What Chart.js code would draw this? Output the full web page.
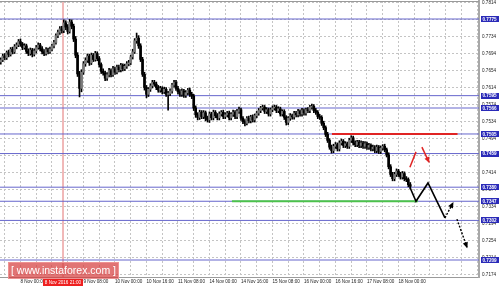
<!DOCTYPE html>
<html>
<head>
<meta charset="utf-8">
<script src="https://cdn.jsdelivr.net/npm/chart.js@4.4.0/dist/chart.umd.min.js"></script>
<style>
  html, body { margin: 0; padding: 0; background: #fff; }
  #wrap { width: 500px; height: 288px; }
</style>
</head>
<body>
<div id="wrap"><canvas id="chart" width="500" height="288"></canvas></div>
<script>
// hourly candles, x = hours counted from 8 Nov 00:00 (weekend hours skipped)
const firstBar = -10;
const firstOpen = 0.7674;
const closes = [
  0.7679,0.7688,0.7684,0.7696,0.7692,0.7704,0.7698,0.7710,0.7714,0.7722,
  0.7716,0.7708,0.7712,0.7699,0.7694,0.7702,0.7692,0.7700,0.7708,0.7714,
  0.7705,0.7698,0.7694,0.7703,0.7698,0.7704,0.7712,0.7720,0.7736,0.7744,
  0.7752,0.7748,0.7766,0.7756,0.7746,0.7768,0.7758,0.7728,0.7690,0.7646,
  0.7612,0.7650,0.7670,0.7678,0.7688,0.7672,0.7690,0.7680,0.7694,0.7682,
  0.7668,0.7652,0.7648,0.7636,0.7644,0.7654,0.7644,0.7658,0.7650,0.7662,
  0.7656,0.7666,0.7658,0.7664,0.7670,0.7672,0.7686,0.7698,0.7724,0.7730,
  0.7712,0.7680,0.7645,0.7614,0.7598,0.7610,0.7618,0.7626,0.7622,0.7614,
  0.7608,0.7612,0.7604,0.7610,0.7598,0.7600,0.7606,0.7620,0.7626,0.7612,
  0.7604,0.7598,0.7606,0.7596,0.7602,0.7608,0.7598,0.7594,0.7566,0.7550,
  0.7544,0.7556,0.7546,0.7555,0.7542,0.7538,0.7552,0.7543,0.7556,0.7548,
  0.7543,0.7552,0.7556,0.7546,0.7550,0.7554,0.7543,0.7551,0.7556,0.7546,
  0.7558,0.7562,0.7542,0.7534,0.7530,0.7542,0.7536,0.7545,0.7538,0.7548,
  0.7554,0.7560,0.7566,0.7568,0.7558,0.7562,0.7552,0.7562,0.7566,0.7568,
  0.7560,0.7564,0.7552,0.7558,0.7544,0.7532,0.7542,0.7548,0.7545,0.7554,
  0.7550,0.7558,0.7552,0.7560,0.7554,0.7562,0.7560,0.7568,0.7570,0.7560,
  0.7556,0.7546,0.7544,0.7530,0.7520,0.7504,0.7490,0.7474,0.7466,0.7476,
  0.7480,0.7470,0.7484,0.7488,0.7478,0.7482,0.7476,0.7490,0.7496,0.7484,
  0.7480,0.7486,0.7478,0.7484,0.7476,0.7482,0.7474,0.7478,0.7470,0.7474,
  0.7466,0.7474,0.7464,0.7472,0.7476,0.7468,0.7456,0.7428,0.7410,0.7400,
  0.7410,0.7418,0.7410,0.7404,0.7412,0.7400,0.7398,0.7386,0.7382
];
const highs = [
  0.7684,0.7693,0.7694,0.7700,0.7702,0.7708,0.7709,0.7715,0.7719,0.7727,
  0.7728,0.7720,0.7717,0.7716,0.7705,0.7707,0.7706,0.7705,0.7713,0.7719,
  0.7718,0.7710,0.7703,0.7708,0.7707,0.7709,0.7716,0.7725,0.7740,0.7749,
  0.7757,0.7758,0.7773,0.7771,0.7762,0.7774,0.7773,0.7763,0.7734,0.7696,
  0.7652,0.7656,0.7675,0.7684,0.7693,0.7692,0.7695,0.7694,0.7699,0.7698,
  0.7687,0.7672,0.7658,0.7652,0.7649,0.7659,0.7658,0.7664,0.7662,0.7667,
  0.7667,0.7671,0.7670,0.7669,0.7675,0.7678,0.7690,0.7704,0.7729,0.7742,
  0.7736,0.7717,0.7685,0.7650,0.7619,0.7614,0.7623,0.7631,0.7631,0.7627,
  0.7619,0.7617,0.7616,0.7615,0.7614,0.7605,0.7611,0.7624,0.7631,0.7631,
  0.7617,0.7609,0.7611,0.7610,0.7607,0.7612,0.7613,0.7603,0.7598,0.7571,
  0.7555,0.7561,0.7560,0.7560,0.7559,0.7547,0.7557,0.7556,0.7561,0.7560,
  0.7553,0.7557,0.7560,0.7561,0.7555,0.7558,0.7559,0.7555,0.7561,0.7560,
  0.7563,0.7568,0.7566,0.7546,0.7539,0.7546,0.7547,0.7549,0.7550,0.7552,
  0.7558,0.7565,0.7570,0.7573,0.7572,0.7567,0.7566,0.7566,0.7571,0.7573,
  0.7572,0.7569,0.7568,0.7562,0.7562,0.7548,0.7546,0.7553,0.7552,0.7558,
  0.7558,0.7563,0.7562,0.7565,0.7564,0.7566,0.7567,0.7572,0.7575,0.7574,
  0.7565,0.7560,0.7551,0.7548,0.7535,0.7524,0.7509,0.7494,0.7479,0.7481,
  0.7485,0.7484,0.7489,0.7493,0.7492,0.7487,0.7486,0.7495,0.7501,0.7500,
  0.7489,0.7490,0.7490,0.7489,0.7488,0.7487,0.7486,0.7483,0.7482,0.7479,
  0.7478,0.7479,0.7478,0.7477,0.7480,0.7481,0.7472,0.7461,0.7433,0.7415,
  0.7415,0.7423,0.7422,0.7415,0.7417,0.7416,0.7405,0.7402,0.7391
];
const lows = [
  0.7669,0.7675,0.7679,0.7680,0.7686,0.7688,0.7693,0.7694,0.7705,0.7710,
  0.7711,0.7703,0.7704,0.7694,0.7689,0.7690,0.7686,0.7688,0.7695,0.7704,
  0.7700,0.7693,0.7689,0.7690,0.7693,0.7694,0.7700,0.7707,0.7716,0.7731,
  0.7739,0.7742,0.7743,0.7750,0.7740,0.7742,0.7752,0.7722,0.7684,0.7640,
  0.7592,0.7604,0.7645,0.7664,0.7673,0.7666,0.7668,0.7675,0.7676,0.7677,
  0.7662,0.7647,0.7643,0.7630,0.7631,0.7639,0.7639,0.7640,0.7645,0.7646,
  0.7651,0.7651,0.7653,0.7654,0.7659,0.7665,0.7668,0.7681,0.7694,0.7718,
  0.7706,0.7675,0.7640,0.7608,0.7590,0.7593,0.7605,0.7613,0.7617,0.7609,
  0.7603,0.7603,0.7599,0.7600,0.7593,0.7561,0.7595,0.7601,0.7615,0.7607,
  0.7599,0.7593,0.7593,0.7591,0.7591,0.7597,0.7593,0.7588,0.7560,0.7544,
  0.7538,0.7539,0.7541,0.7541,0.7536,0.7533,0.7532,0.7538,0.7538,0.7543,
  0.7538,0.7538,0.7547,0.7541,0.7541,0.7545,0.7538,0.7538,0.7546,0.7541,
  0.7541,0.7553,0.7537,0.7529,0.7524,0.7526,0.7531,0.7531,0.7533,0.7533,
  0.7543,0.7549,0.7555,0.7561,0.7553,0.7553,0.7547,0.7547,0.7557,0.7561,
  0.7555,0.7555,0.7547,0.7547,0.7539,0.7526,0.7527,0.7537,0.7540,0.7540,
  0.7545,0.7545,0.7547,0.7547,0.7549,0.7549,0.7555,0.7555,0.7563,0.7555,
  0.7551,0.7541,0.7539,0.7525,0.7515,0.7499,0.7485,0.7469,0.7460,0.7461,
  0.7471,0.7465,0.7465,0.7479,0.7473,0.7473,0.7471,0.7471,0.7485,0.7479,
  0.7475,0.7475,0.7473,0.7473,0.7471,0.7471,0.7469,0.7469,0.7465,0.7465,
  0.7461,0.7461,0.7459,0.7459,0.7467,0.7463,0.7451,0.7423,0.7405,0.7395,
  0.7395,0.7405,0.7405,0.7399,0.7399,0.7395,0.7393,0.7381,0.7377
];

const timeLabels = ['8 Nov 00:00', '8 Nov 16:00', '9 Nov 08:00', '10 Nov 00:00', '10 Nov 16:00',
  '11 Nov 08:00', '14 Nov 00:00', '14 Nov 16:00', '15 Nov 08:00', '16 Nov 00:00',
  '16 Nov 16:00', '17 Nov 08:00', '18 Nov 00:00'];
const priceTicks = [0.7174, 0.7214, 0.7254, 0.7294, 0.7334, 0.7374, 0.7414, 0.7454, 0.7494,
  0.7534, 0.7574, 0.7614, 0.7654, 0.7694, 0.7734, 0.7774, 0.7814];

// support / resistance levels (blue), with the price tag on the axis
const levels = [0.7775, 0.7595, 0.7566, 0.7505, 0.7459, 0.7380, 0.7347, 0.7302, 0.7209];
const redLevel = { from: 158.2, to: 222.0, price: 0.7505 };
const greenLevel = { from: 107.4, to: 201.9, price: 0.7347 };
const markerHour = 21.6;
const markerText = '8 Nov 2016 21:00';

// forecast drawings
const zigzag = [[197.8, 0.7380], [200.9, 0.7347], [207.0, 0.7390], [215.6, 0.7308]];
const arrowUp = [[215.6, 0.7308], [219.7, 0.7343]];
const arrowDown = [[221.7, 0.7305], [226.8, 0.7239]];
const redStroke = [[197.8, 0.7427], [200.9, 0.7463]];
const redArrow = [[203.9, 0.7474], [207.5, 0.7439]];

const X_MIN = -10.4, X_MAX = 232.9;
const Y_MIN = 0.71691, Y_MAX = 0.78173;

const pts = arr => arr.map(([x, y]) => ({ x, y }));

const wicks = [], bodies = [], bodyColors = [];
closes.forEach((c, k) => {
  const o = k === 0 ? firstOpen : closes[k - 1];
  const x = firstBar + k;
  wicks.push({ x, y: [lows[k], highs[k]] });
  bodies.push({ x, y: o === c ? [o - 0.00004, c + 0.00004] : [o, c] });
  bodyColors.push(c >= o ? '#7a7a7a' : '#000000');
});

const lineSet = (data, color, width, extra) => Object.assign({
  type: 'line', data, borderColor: color, borderWidth: width,
  pointRadius: 0, fill: false, tension: 0, order: 1
}, extra || {});

const datasets = [];
levels.forEach(p => datasets.push(lineSet(pts([[X_MIN, p], [X_MAX, p]]), '#6666cc', 1, { order: 9 })));
datasets.push(lineSet(pts([[markerHour, Y_MIN], [markerHour, Y_MAX]]), '#e27272', 1, { order: 9 }));
datasets.push(lineSet(pts([[greenLevel.from, greenLevel.price], [greenLevel.to, greenLevel.price]]), '#4cc24c', 2, { order: 8 }));
datasets.push(lineSet(pts([[redLevel.from, redLevel.price], [redLevel.to, redLevel.price]]), '#e02424', 2, { order: 8 }));
datasets.push({ type: 'bar', data: wicks, backgroundColor: '#000', barThickness: 1, grouped: false, order: 6 });
datasets.push({ type: 'bar', data: bodies, backgroundColor: bodyColors, barThickness: 2, grouped: false, order: 5 });
datasets.push(lineSet(pts(zigzag), '#000', 1.6));
datasets.push(lineSet(pts(arrowUp), '#000', 1.4, { borderDash: [2, 1.5], arrow: true }));
datasets.push(lineSet(pts(arrowDown), '#000', 1.4, { borderDash: [2, 1.5], arrow: true }));
datasets.push(lineSet(pts(redStroke), '#e02424', 1.5));
datasets.push(lineSet(pts(redArrow), '#e02424', 1.5, { arrow: true }));

const tickFont = { family: 'Liberation Sans', size: 4.6 };

const extras = {
  id: 'extras',
  afterDatasetsDraw(chart) {
    const { ctx } = chart;
    chart.data.datasets.forEach((ds, i) => {
      if (!ds.arrow) return;
      const els = chart.getDatasetMeta(i).data;
      const a = els[els.length - 2], b = els[els.length - 1];
      const ang = Math.atan2(b.y - a.y, b.x - a.x);
      ctx.save();
      ctx.fillStyle = ds.borderColor;
      ctx.translate(b.x, b.y);
      ctx.rotate(ang);
      ctx.beginPath();
      ctx.moveTo(1, 0);
      ctx.lineTo(-5, -2.6);
      ctx.lineTo(-5, 2.6);
      ctx.closePath();
      ctx.fill();
      ctx.restore();
    });
  },
  afterDraw(chart) {
    const { ctx, chartArea, scales } = chart;
    const ys = scales.y, xs = scales.x;
    ctx.save();
    // top frame line
    ctx.strokeStyle = '#9a9a9a';
    ctx.lineWidth = 1;
    ctx.beginPath();
    ctx.moveTo(0, chartArea.top + 0.5);
    ctx.lineTo(chartArea.right, chartArea.top + 0.5);
    ctx.stroke();
    // price tags for the levels
    ctx.font = 'bold 4.6px "Liberation Sans"';
    ctx.textBaseline = 'middle';
    ctx.textAlign = 'left';
    levels.forEach(p => {
      const y = ys.getPixelForValue(p);
      ctx.fillStyle = '#2a2ab8';
      ctx.fillRect(chartArea.right + 2, Math.round(y) - 3, 18, 6);
      ctx.fillStyle = '#fff';
      ctx.fillText(p.toFixed(4), chartArea.right + 3.5, y + 0.3);
    });
    // marker time tag
    const mx = xs.getPixelForValue(markerHour);
    ctx.fillStyle = '#ee2020';
    ctx.fillRect(mx - 20, chartArea.bottom + 2, 40, 7);
    ctx.fillStyle = '#fff';
    ctx.textAlign = 'center';
    ctx.font = '4.6px "Liberation Sans"';
    ctx.fillText(markerText, mx, chartArea.bottom + 5.6);
    // watermark
    ctx.fillStyle = 'rgba(214, 62, 62, 0.72)';
    ctx.fillRect(8, 262, 111, 17);
    ctx.strokeStyle = 'rgba(240, 150, 150, 0.9)';
    ctx.strokeRect(8.5, 262.5, 110, 16);
    ctx.fillStyle = '#fff';
    ctx.font = '10.5px "Liberation Sans"';
    ctx.fillText('[ www.instaforex.com ]', 63.5, 271);
    ctx.restore();
  }
};

new Chart(document.getElementById('chart'), {
  type: 'bar',
  data: { datasets },
  plugins: [extras],
  options: {
    responsive: false,
    animation: false,
    events: [],
    layout: { padding: { top: 1, left: 0, right: 0, bottom: 0 } },
    plugins: { legend: { display: false }, tooltip: { enabled: false } },
    scales: {
      x: {
        type: 'linear',
        min: X_MIN,
        max: X_MAX,
        offset: false,
        grid: { color: '#c4c4c4', drawTicks: false, offset: false },
        border: { color: '#9a9a9a', width: 1, dash: [2, 2] },
        afterBuildTicks(scale) {
          const t = [];
          for (let v = -8; v <= X_MAX; v += 8) t.push({ value: v });
          scale.ticks = t;
        },
        afterFit(scale) {
          scale.height = 11;
          scale.paddingLeft = 0;
          scale.paddingRight = 0;
        },
        ticks: {
          autoSkip: false,
          maxRotation: 0,
          align: 'start',
          padding: 2,
          color: '#222',
          font: tickFont,
          callback: v => (v >= 0 && v % 16 === 0 && timeLabels[v / 16]) ? timeLabels[v / 16] : ''
        }
      },
      y: {
        type: 'linear',
        position: 'right',
        min: Y_MIN,
        max: Y_MAX,
        grid: { color: '#c4c4c4', drawTicks: false },
        border: { color: '#a8a8a8', width: 2, dash: [2, 2] },
        afterBuildTicks(scale) {
          scale.ticks = priceTicks.map(v => ({ value: v }));
        },
        afterFit(scale) {
          scale.width = 21;
          scale.paddingTop = 0;
          scale.paddingBottom = 0;
        },
        ticks: {
          padding: 3,
          color: '#222',
          font: tickFont,
          callback: v => v.toFixed(4)
        }
      }
    }
  }
});
</script>
</body>
</html>
